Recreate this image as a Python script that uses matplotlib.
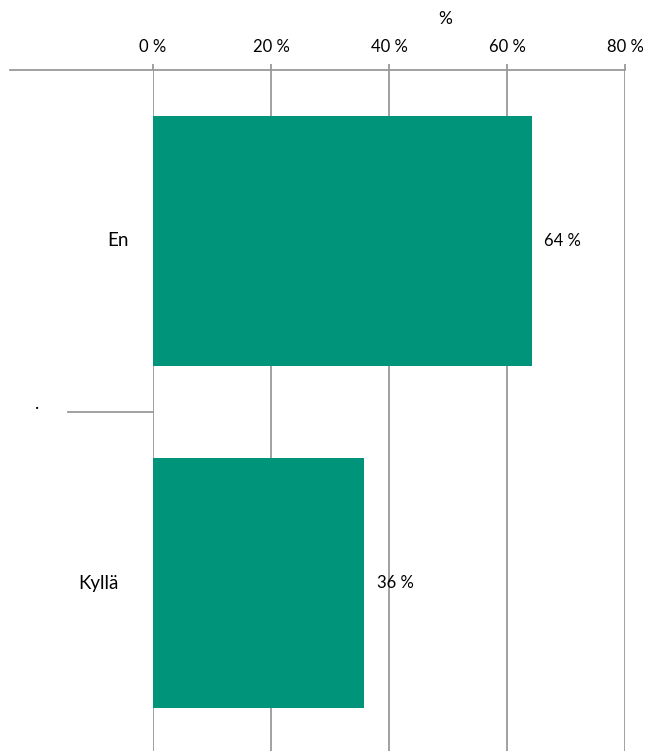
import matplotlib.pyplot as plt
from matplotlib.lines import Line2D
from matplotlib.ticker import FuncFormatter

plt.rcParams['font.family'] = ['Lato', 'DejaVu Sans']

categories = ['En', 'Kyllä']
values = [64.2, 35.8]
value_labels = ['64 %', '36 %']
xticks = [0, 20, 40, 60, 80]

bar_color = '#00957A'
grid_color = '#9A9A9A'

fig = plt.figure(figsize=(6.48, 7.51), dpi=100)
ax = fig.add_axes([0.2361, -0.004, 0.7284, 0.9108])

ypos = list(range(len(categories)))
ax.barh(ypos, values, height=0.73, color=bar_color, zorder=3)
ax.set_ylim(len(categories) - 0.5, -0.5)
ax.set_xlim(0, 80)

ax.xaxis.tick_top()
ax.set_xticks(xticks)
ax.xaxis.set_major_formatter(FuncFormatter(lambda v, p: f'{v:.0f} %'))
ax.tick_params(axis='x', length=4, width=1.3, color=grid_color, labelsize=12, pad=7)
ax.set_yticks([])
ax.grid(True, axis='x', color=grid_color, linewidth=1.3, zorder=1)
for s in ax.spines.values():
    s.set_visible(False)

ax.text(0.62, 1.075, '%', transform=ax.transAxes, ha='center', va='center', fontsize=12.5)

# category labels
label_x = [-0.074, -0.115]
for y, name, lx in zip(ypos, categories, label_x):
    ax.text(lx, y, name, transform=ax.get_yaxis_transform(), ha='center', va='center', fontsize=13.5)

# value labels
for y, v, lab in zip(ypos, values, value_labels):
    ax.text(v + 2.1, y, lab, ha='left', va='center', fontsize=12)

# top axis line extending to the left and category separator
fig.add_artist(Line2D([10 / 648, 625 / 648], [1 - 70 / 751] * 2, color=grid_color, linewidth=1.3))
ax.plot([-0.18, 0], [0.5, 0.5], transform=ax.get_yaxis_transform(), color=grid_color,
        linewidth=1.3, clip_on=False)
ax.text(-0.245, 0.5, '.', transform=ax.get_yaxis_transform(), ha='center', va='bottom', fontsize=13)

fig.savefig('out.png', dpi=100)
